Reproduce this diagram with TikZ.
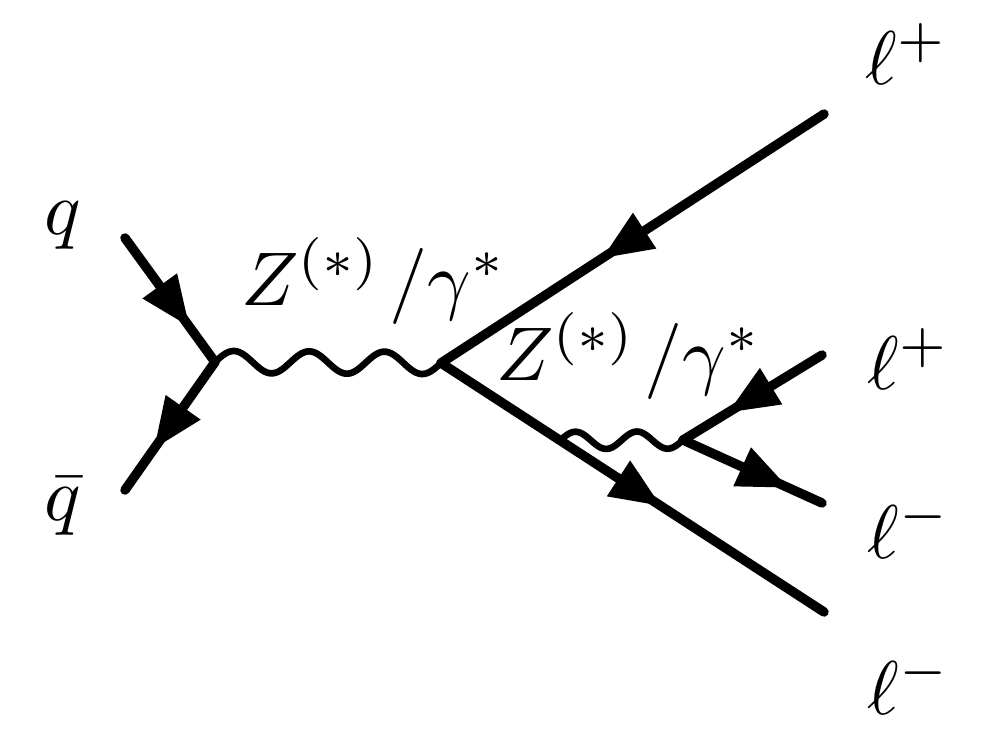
\documentclass[tikz,border=0pt]{standalone}
\usetikzlibrary{arrows.meta,decorations.markings,calc}
\tikzset{
  fermion/.style={line width=5.4pt,line cap=round,
    postaction={decorate,decoration={markings,mark=at position #1 with {\arrow{Triangle[length=1.02cm,width=0.8cm]}}}}},
  photon/.style={line width=3.8pt,line join=round},
  lbl/.style={inner sep=0pt,anchor=base west,scale=4.33}
}
\begin{document}
\begin{tikzpicture}[x=0.02cm,y=-0.02cm]
\useasboundingbox (0,0) rectangle (999,728);
\coordinate (qs) at (125,238);
\coordinate (qb) at (125,490);
\coordinate (v1) at (215,362);
\coordinate (v2) at (441,363);
\coordinate (lp) at (824,114);
\coordinate (lm) at (824,612);
\coordinate (p) at ($(v2)!0.311!(lm)$);
\coordinate (v3) at (683,440);
\coordinate (lp2) at (822,355);
\coordinate (lm2) at (822,503);
\draw[fermion=0.72] (qs) -- (v1);
\draw[fermion=0.68] (v1) -- (qb);
\draw[fermion=0.58] (lp) -- (v2);
\draw[fermion=0.575] (v2) -- (lm);
\draw[fermion=0.68] (lp2) -- (v3);
\draw[fermion=0.76] (v3) -- (lm2);
\draw[photon] let \p1=(v1), \p2=(v2) in
  plot[domain=0:1,samples=150,variable=\t] ({\x1+(\x2-\x1)*\t},{\y1+(\y2-\y1)*\t+6.3pt*sin(1080*\t)});
\draw[photon] let \p1=(p), \p2=(v3) in
  plot[domain=0:1,samples=120,variable=\t] ({\x1+(\x2-\x1)*\t},{\y1+(\y2-\y1)*\t+4.9pt*sin(720*\t)});
\node[lbl] (tq) at (43,234) {$q$};
\node[lbl] (tqb) at (43,520) {$\bar q$};
\node[lbl] (tz1) at (240,305) {$Z^{(*)}\mkern2mu/\gamma^*$};
\node[lbl] (tz2) at (495,380) {$Z^{(*)}\mkern2mu/\gamma^*$};
\node[lbl] (tl1) at (864,84) {$\ell^+$};
\node[lbl] (tl2) at (866,389) {$\ell^+$};
\node[lbl] (tl3) at (866,558) {$\ell^-$};
\node[lbl] (tl4) at (866,714) {$\ell^-$};
\end{tikzpicture}
\end{document}
